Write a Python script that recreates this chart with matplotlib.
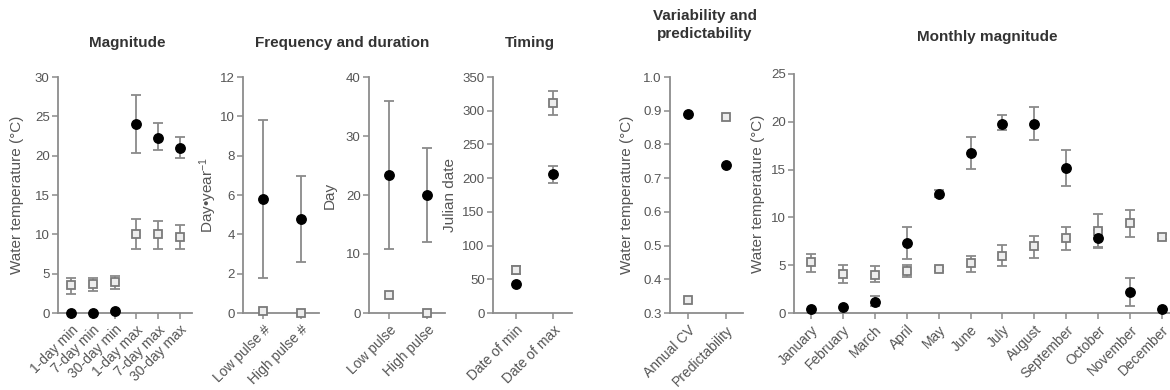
import matplotlib
matplotlib.use("Agg")
import matplotlib.pyplot as plt
import numpy as np

plt.rcParams["font.family"] = ["Liberation Sans", "DejaVu Sans"]
plt.rcParams["mathtext.fontset"] = "custom"
plt.rcParams["mathtext.rm"] = "Liberation Sans"
plt.rcParams["mathtext.it"] = "Liberation Sans:italic"

nan = np.nan

# Magnitude
mag_labels = ["1-day min", "7-day min", "30-day min", "1-day max", "7-day max", "30-day max"]
mag_circle = [0.0, 0.0, 0.25, 24.0, 22.2, 21.0]
mag_circle_lo = [nan, nan, nan, 20.3, 20.7, 19.7]
mag_circle_hi = [nan, nan, nan, 27.7, 24.1, 22.4]
mag_square = [3.5, 3.7, 3.9, 10.1, 10.0, 9.6]
mag_square_lo = [2.4, 2.8, 3.1, 8.1, 8.1, 8.1]
mag_square_hi = [4.5, 4.5, 4.7, 11.9, 11.7, 11.2]

# Frequency
freq_labels = ["Low pulse #", "High pulse #"]
freq_circle = [5.8, 4.8]
freq_circle_lo = [1.8, 2.6]
freq_circle_hi = [9.8, 6.95]
freq_square = [0.12, 0.0]
freq_square_lo = [nan, nan]
freq_square_hi = [nan, nan]

# Duration
dur_labels = ["Low pulse", "High pulse"]
dur_circle = [23.4, 20.0]
dur_circle_lo = [10.8, 12.0]
dur_circle_hi = [36.0, 28.0]
dur_square = [3.0, 0.0]
dur_square_lo = [nan, nan]
dur_square_hi = [nan, nan]

# Timing
tim_labels = ["Date of min", "Date of max"]
tim_circle = [43, 206]
tim_circle_lo = [nan, 193]
tim_circle_hi = [nan, 218]
tim_square = [64, 311]
tim_square_lo = [58, 294]
tim_square_hi = [69, 329]

# Variability and predictability
var_labels = ["Annual CV", "Predictability"]
var_circle = [0.89, 0.74]
var_square = [0.34, 0.88]

# Monthly magnitude
mon_labels = ["January", "February", "March", "April", "May", "June", "July",
              "August", "September", "October", "November", "December"]
mon_circle = [0.45, 0.6, 1.2, 7.3, 12.5, 16.7, 19.8, 19.8, 15.2, 7.8, 2.2, 0.4]
mon_circle_lo = [nan, nan, 0.7, 5.7, 12.1, 15.1, 19.1, 18.05, 13.3, 6.9, 0.7, nan]
mon_circle_hi = [nan, nan, 1.8, 9.0, 12.9, 18.4, 20.7, 21.5, 17.0, 8.7, 3.7, nan]
mon_square = [5.3, 4.1, 4.0, 4.35, 4.6, 5.2, 6.0, 7.0, 7.8, 8.6, 9.4, 8.0]
mon_square_lo = [4.3, 3.1, 3.2, 3.8, 4.35, 4.3, 4.9, 5.8, 6.55, 6.8, 7.9, 7.75]
mon_square_hi = [6.2, 5.05, 4.9, 5.0, 4.85, 6.0, 7.1, 8.1, 9.0, 10.35, 10.8, 8.25]

AXIS_C = "#8c8c8c"
TEXT_C = "#555555"
TITLE_C = "#333333"
ERR_C = "#8a8a8a"


def draw_series(ax, vals, lo, hi, kind):
    x = np.arange(len(vals))
    vals = np.asarray(vals, float)
    if lo is not None:
        lo = np.asarray(lo, float)
        hi = np.asarray(hi, float)
        ok = np.isfinite(lo) & np.isfinite(hi)
        if ok.any():
            yerr = np.vstack([vals[ok] - lo[ok], hi[ok] - vals[ok]])
            ax.errorbar(x[ok], vals[ok], yerr=yerr, fmt="none", ecolor=ERR_C,
                        elinewidth=1.3, capsize=3.7, capthick=1.3, clip_on=False, zorder=2)
    if kind == "circle":
        ax.plot(x, vals, "o", ms=6.8, mfc="black", mec="black", ls="none",
                clip_on=False, zorder=4)
    else:
        ax.plot(x, vals, "s", ms=5.8, mfc="#ededed", mec="#7a7a7a", mew=1.3, ls="none",
                clip_on=False, zorder=3)


def style_axis(ax, labels, xlim, ylim, yticks, ylabel, label_x, fmt=None):
    for side in ["top", "right"]:
        ax.spines[side].set_visible(False)
    for side in ["left", "bottom"]:
        ax.spines[side].set_color(AXIS_C)
        ax.spines[side].set_linewidth(1.3)
    ax.set_xlim(*xlim)
    ax.set_ylim(*ylim)
    ax.set_yticks(yticks)
    if fmt:
        ax.set_yticklabels([fmt.format(v) for v in yticks])
    ax.set_xticks(np.arange(len(labels)))
    ax.set_xticklabels(labels, rotation=45, ha="right", rotation_mode="anchor")
    ax.tick_params(axis="both", colors=AXIS_C, labelcolor=TEXT_C,
                   length=4, width=1.1, direction="out")
    ax.tick_params(axis="x", pad=3, labelsize=10)
    ax.tick_params(axis="y", pad=2, labelsize=9.5)
    if ylabel:
        ax.set_ylabel(ylabel, fontsize=11, color=TEXT_C)
        ax.yaxis.set_label_coords(label_x, 0.5)


fig = plt.figure(figsize=(11.7, 3.9), dpi=100)
W, H = 1170.0, 390.0


def add_ax(left, right, top=77, bottom=313):
    return fig.add_axes([left / W, 1 - bottom / H, (right - left) / W, (bottom - top) / H])


ax1 = add_ax(58, 192)
draw_series(ax1, mag_circle, mag_circle_lo, mag_circle_hi, "circle")
draw_series(ax1, mag_square, mag_square_lo, mag_square_hi, "square")
style_axis(ax1, mag_labels, (-0.6, 5.55), (0, 30), np.arange(0, 31, 5),
           "Water temperature (°C)", -0.25)

ax2 = add_ax(243, 319)
draw_series(ax2, freq_circle, freq_circle_lo, freq_circle_hi, "circle")
draw_series(ax2, freq_square, freq_square_lo, freq_square_hi, "square")
style_axis(ax2, freq_labels, (-0.53, 1.47), (0, 12), np.arange(0, 13, 2),
           r"Day•year$^{-1}$", -0.32)

ax3 = add_ax(369, 445)
draw_series(ax3, dur_circle, dur_circle_lo, dur_circle_hi, "circle")
draw_series(ax3, dur_square, dur_square_lo, dur_square_hi, "square")
style_axis(ax3, dur_labels, (-0.53, 1.47), (0, 40), np.arange(0, 41, 10),
           "Day", -0.42)

ax4 = add_ax(493, 572)
draw_series(ax4, tim_circle, tim_circle_lo, tim_circle_hi, "circle")
draw_series(ax4, tim_square, tim_square_lo, tim_square_hi, "square")
style_axis(ax4, tim_labels, (-0.62, 1.51), (0, 350), np.arange(0, 351, 50),
           "Julian date", -0.46)

ax5 = add_ax(670, 743)
draw_series(ax5, var_circle, None, None, "circle")
draw_series(ax5, var_square, None, None, "square")
style_axis(ax5, var_labels, (-0.47, 1.45), (0.3, 1.0), np.round(np.arange(0.3, 1.01, 0.1), 1),
           "Water temperature (°C)", -0.49, fmt="{:.1f}")

ax6 = add_ax(794, 1170, top=74)
draw_series(ax6, mon_circle, mon_circle_lo, mon_circle_hi, "circle")
draw_series(ax6, mon_square, mon_square_lo, mon_square_hi, "square")
style_axis(ax6, mon_labels, (-0.53, 11.25), (0, 25), np.arange(0, 26, 5),
           "Water temperature (°C)", -0.077)

# panel titles
tkw = dict(fontsize=11, fontweight="bold", color=TITLE_C, ha="center", va="center")
fig.text(127 / W, 1 - 43 / H, "Magnitude", **tkw)
fig.text(342 / W, 1 - 43 / H, "Frequency and duration", **tkw)
fig.text(530 / W, 1 - 43 / H, "Timing", **tkw)
fig.text(705 / W, 1 - 25 / H, "Variability and\npredictability", linespacing=1.3, **tkw)
fig.text(987 / W, 1 - 37 / H, "Monthly magnitude", **tkw)

fig.savefig("out.png", dpi=100)
